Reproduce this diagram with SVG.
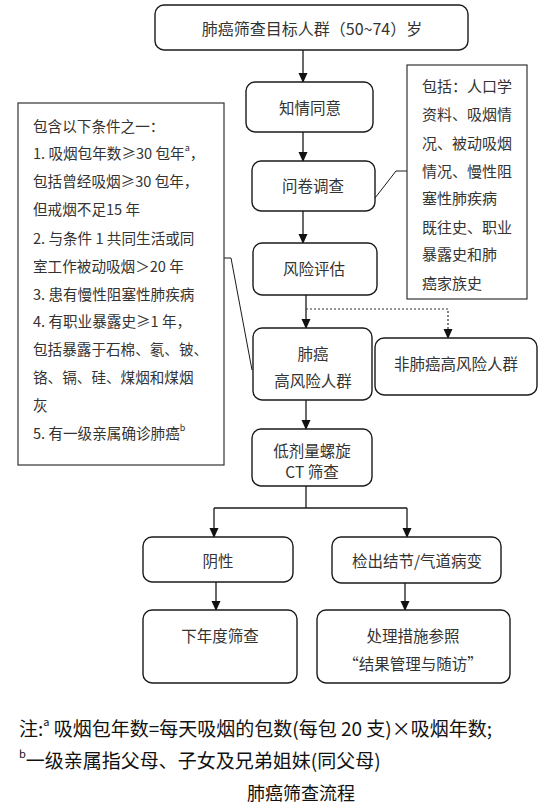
<svg xmlns="http://www.w3.org/2000/svg" width="551" height="807" viewBox="0 0 551 807">
<defs>
<marker id="ah" markerWidth="10" markerHeight="10" refX="9" refY="5" orient="auto" markerUnits="userSpaceOnUse">
<path d="M0,0.5 L10,5 L0,9.5 Z" fill="#111"/>
</marker>
</defs>
<style>
.box{fill:#fff;stroke:#1a1a1a;stroke-width:1.4}
.sq{fill:#fff;stroke:#333;stroke-width:1.2}
.t{font-family:"Noto Sans CJK SC","Noto Sans",sans-serif;font-size:15.5px;fill:#333;text-anchor:middle;dominant-baseline:central}
.l{font-family:"Noto Sans CJK SC","Noto Sans",sans-serif;font-size:14.6px;fill:#333;dominant-baseline:central}
.n{font-family:"Noto Sans CJK SC","Noto Sans",sans-serif;font-size:19px;fill:#111;dominant-baseline:central}
.c{stroke:#1a1a1a;stroke-width:1.3;fill:none}
.d{stroke:#333;stroke-width:1.2;fill:none;stroke-dasharray:2,2}
.sup{font-size:9px}
</style>
<rect width="551" height="807" fill="#fff"/>
<g id="connectors">
<line class="c" x1="303" y1="50" x2="303" y2="82" marker-end="url(#ah)"/>
<line class="c" x1="303" y1="132" x2="303" y2="161" marker-end="url(#ah)"/>
<line class="c" x1="303" y1="211" x2="303" y2="243" marker-end="url(#ah)"/>
<line class="c" x1="306" y1="295" x2="306" y2="328" marker-end="url(#ah)"/>
<polyline class="d" points="306,309 448,309 448,338" marker-end="url(#ah)"/>
<line class="c" x1="306" y1="400" x2="306" y2="429" marker-end="url(#ah)"/>
<polyline class="c" points="306,486 306,508"/>
<polyline class="c" points="214,508 407,508"/>
<line class="c" x1="214" y1="508" x2="214" y2="537" marker-end="url(#ah)"/>
<line class="c" x1="407" y1="508" x2="407" y2="537" marker-end="url(#ah)"/>
<line class="c" x1="216" y1="582" x2="216" y2="610" marker-end="url(#ah)"/>
<line class="c" x1="405" y1="583" x2="405" y2="610" marker-end="url(#ah)"/>
<polyline class="c" style="stroke-width:1" points="375,198 396,171 407,171"/>
<polyline class="c" style="stroke-width:1" points="224,258 231,258 252,370"/>
</g>
<g id="target">
<rect class="box" x="155" y="5" width="313" height="45" rx="9"/>
<text class="t" x="312" y="28" style="font-size:16px">肺癌筛查目标人群（50~74）岁</text>
</g>
<g id="consent">
<rect class="box" x="246" y="82" width="127" height="50" rx="9"/>
<text class="t" x="310" y="107">知情同意</text>
</g>
<g id="survey">
<rect class="box" x="252" y="161" width="123" height="50" rx="9"/>
<text class="t" x="313" y="185">问卷调查</text>
</g>
<g id="risk">
<rect class="box" x="253" y="243" width="124" height="52" rx="9"/>
<text class="t" x="314" y="268">风险评估</text>
</g>
<g id="high">
<rect class="box" x="253" y="328" width="119" height="72" rx="9"/>
<text class="t" x="313" y="353">肺癌</text>
<text class="t" x="313" y="380">高风险人群</text>
</g>
<g id="nonhigh">
<rect class="box" x="375" y="338" width="162" height="57" rx="9"/>
<text class="t" x="456" y="363">非肺癌高风险人群</text>
</g>
<g id="ct">
<rect class="box" x="252" y="429" width="120" height="57" rx="9"/>
<text class="t" x="312" y="450">低剂量螺旋</text>
<text class="t" x="312" y="471">CT 筛查</text>
</g>
<g id="negative">
<rect class="box" x="143" y="537" width="150" height="45" rx="9"/>
<text class="t" x="218" y="560">阴性</text>
</g>
<g id="nodule">
<rect class="box" x="332" y="537" width="169" height="46" rx="9"/>
<text class="t" x="417" y="560">检出结节/气道病变</text>
</g>
<g id="nextyear">
<rect class="box" x="143" y="610" width="154" height="73" rx="9"/>
<text class="t" x="220" y="635">下年度筛查</text>
</g>
<g id="handle">
<rect class="box" x="317" y="610" width="193" height="73" rx="9"/>
<text class="t" x="413" y="635">处理措施参照</text>
<text class="t" x="413" y="663">“结果管理与随访”</text>
</g>
<g id="criteria">
<rect class="sq" x="18" y="103" width="206" height="362"/>
<text class="l" x="33" y="125">包含以下条件之一：</text>
<text class="l" x="33" y="152">1. 吸烟包年数≥30 包年<tspan class="sup" dy="-5">a</tspan><tspan dy="5">，</tspan></text>
<text class="l" x="33" y="180">包括曾经吸烟≥30 包年，</text>
<text class="l" x="33" y="208">但戒烟不足15 年</text>
<text class="l" x="33" y="237">2. 与条件 1 共同生活或同</text>
<text class="l" x="33" y="265">室工作被动吸烟＞20 年</text>
<text class="l" x="33" y="293">3. 患有慢性阻塞性肺疾病</text>
<text class="l" x="33" y="320">4. 有职业暴露史≥1 年，</text>
<text class="l" x="33" y="348">包括暴露于石棉、氡、铍、</text>
<text class="l" x="33" y="376">铬、镉、硅、煤烟和煤烟</text>
<text class="l" x="33" y="404">灰</text>
<text class="l" x="33" y="432">5. 有一级亲属确诊肺癌<tspan class="sup" dy="-5">b</tspan></text>
</g>
<g id="includes">
<rect class="sq" x="407" y="65" width="120" height="234"/>
<text class="l" x="422" y="85" style="font-size:15px">包括：人口学</text>
<text class="l" x="422" y="113" style="font-size:15px">资料、吸烟情</text>
<text class="l" x="422" y="142" style="font-size:15px">况、被动吸烟</text>
<text class="l" x="422" y="170" style="font-size:15px">情况、慢性阻</text>
<text class="l" x="422" y="197" style="font-size:15px">塞性肺疾病</text>
<text class="l" x="422" y="226" style="font-size:15px">既往史、职业</text>
<text class="l" x="422" y="253" style="font-size:15px">暴露史和肺</text>
<text class="l" x="422" y="282" style="font-size:15px">癌家族史</text>
</g>
<g id="notes">
<text class="n" x="19" y="727">注:<tspan class="sup" dy="-6" style="font-size:11px">a</tspan><tspan dy="6"> 吸烟包年数=每天吸烟的包数(每包 20 支)×吸烟年数;</tspan></text>
<text class="n" x="19" y="759"><tspan class="sup" dy="-6" style="font-size:11px">b</tspan><tspan dy="6">一级亲属指父母、子女及兄弟姐妹(同父母)</tspan></text>
<text class="n" x="301" y="792" text-anchor="middle" style="font-size:18px">肺癌筛查流程</text>
</g>
</svg>
